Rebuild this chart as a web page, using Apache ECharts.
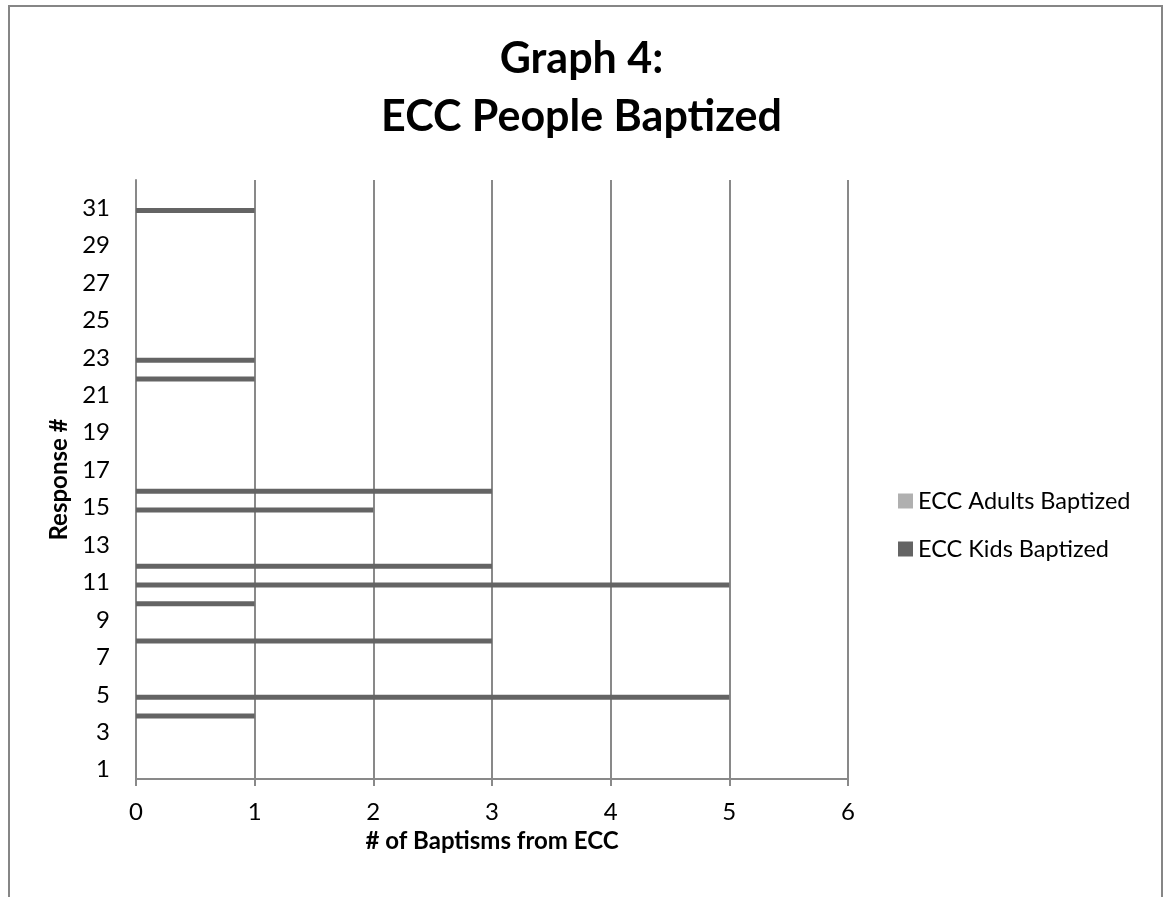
<!DOCTYPE html>
<html>
<head>
<meta charset="utf-8">
<title>Graph 4: ECC People Baptized</title>
<script src="https://cdn.jsdelivr.net/npm/echarts@6/dist/echarts.min.js"></script>
<style>
  html, body { margin: 0; padding: 0; background: #fff; }
  #chart { width: 1163px; height: 897px; }
</style>
</head>
<body>
<div id="chart"></div>
<script>
// Response numbers 1..32 (bottom to top)
const responses = ['1','2','3','4','5','6','7','8','9','10','11','12','13','14','15','16',
                   '17','18','19','20','21','22','23','24','25','26','27','28','29','30','31','32'];

// Baptisms per response
const adultsBaptized = [0,0,0,0,0,0,0,0,0,0,0,0,0,0,0,0,0,0,0,0,0,0,0,0,0,0,0,0,0,0,0,0];
const kidsBaptized   = [0,0,0,1,5,0,0,3,0,1,5,3,0,0,2,3,0,0,0,0,0,1,1,0,0,0,0,0,0,0,1,0];

const seriesNames = ['ECC Adults Baptized', 'ECC Kids Baptized'];

const FONT = 'Lato, "Open Sans", sans-serif';
const GRID_COLOR = '#898989';

const chart = echarts.init(document.getElementById('chart'), null, { renderer: 'canvas' });

chart.setOption({
  backgroundColor: '#ffffff',
  animation: false,
  title: {
    text: 'Graph 4:\nECC People Baptized',
    left: 'center',
    top: 25,
    textStyle: {
      fontFamily: FONT,
      fontWeight: 'bold',
      fontSize: 43,
      lineHeight: 58,
      color: '#000'
    }
  },
  legend: {
    orient: 'vertical',
    left: 898,
    top: 489,
    padding: 0,
    data: seriesNames,
    itemWidth: 15,
    itemHeight: 15,
    itemGap: 24,
    icon: 'rect',
    textStyle: { fontFamily: FONT, fontSize: 23.5, color: '#000', lineHeight: 24 }
  },
  grid: { left: 136, right: 315, top: 180, bottom: 118, containLabel: false },
  xAxis: {
    type: 'value',
    min: 0,
    max: 6,
    interval: 1,
    name: '# of Baptisms from ECC',
    nameLocation: 'middle',
    nameGap: 38,
    nameTextStyle: { fontFamily: FONT, fontWeight: 'bold', fontSize: 24, color: '#000' },
    axisLine: { show: true, lineStyle: { color: GRID_COLOR, width: 2 } },
    axisTick: { show: true, length: 7, lineStyle: { color: GRID_COLOR, width: 2 } },
    axisLabel: { fontFamily: FONT, fontSize: 24, color: '#000', margin: 21 },
    splitLine: { show: true, lineStyle: { color: GRID_COLOR, width: 2 } }
  },
  yAxis: {
    type: 'category',
    data: responses,
    boundaryGap: true,
    name: 'Response #',
    nameLocation: 'middle',
    nameRotate: 90,
    nameGap: 64,
    nameTextStyle: { fontFamily: FONT, fontWeight: 'bold', fontSize: 24, color: '#000' },
    axisLine: { show: true, lineStyle: { color: GRID_COLOR, width: 2 } },
    axisTick: { show: false },
    axisLabel: { interval: 1, fontFamily: FONT, fontSize: 24, color: '#000', margin: 26 },
    splitLine: { show: false }
  },
  series: [
    {
      name: seriesNames[0],
      type: 'bar',
      data: adultsBaptized,
      barWidth: 5,
      barGap: '0%',
      itemStyle: { color: '#b0b0b0' }
    },
    {
      name: seriesNames[1],
      type: 'bar',
      data: kidsBaptized,
      barWidth: 5,
      barGap: '0%',
      itemStyle: { color: '#646464' }
    }
  ],
  graphic: [
    {
      type: 'polyline',
      shape: { points: [[9, 900], [9, 6], [1162, 6], [1162, 900]] },
      style: { stroke: '#868686', lineWidth: 2, fill: null },
      silent: true
    }
  ]
});
</script>
</body>
</html>
